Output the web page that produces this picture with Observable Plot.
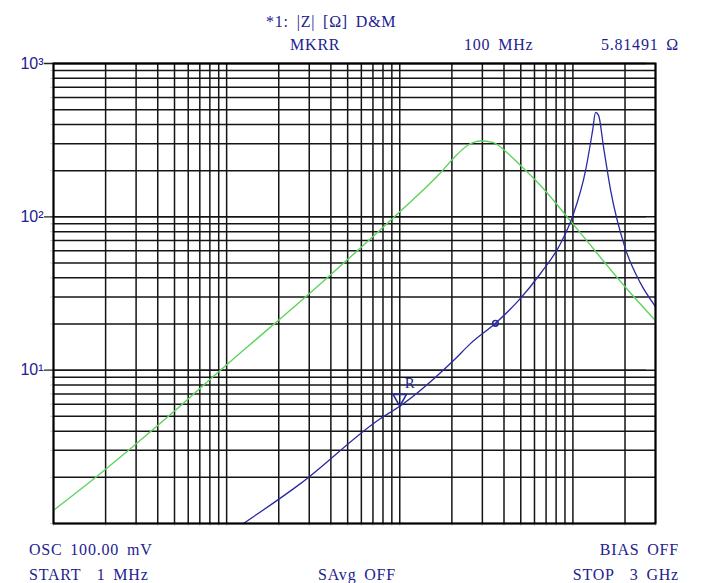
<!DOCTYPE html>
<html>
<head>
<meta charset="utf-8">
<script src="https://cdn.jsdelivr.net/npm/d3@7"></script>
<script src="https://cdn.jsdelivr.net/npm/@observablehq/plot@0.6"></script>
<style>
  body { margin: 0; background: #fff; }
  #wrap { position: relative; width: 702px; height: 583px; background: #fff; overflow: hidden; }
  #wrap svg { position: absolute; left: 0; top: 0; }
  .t { position: absolute; font-family: "Liberation Serif", "DejaVu Serif", serif; font-size: 16px; line-height: 16px; color: #22228f; white-space: pre; letter-spacing: 0.8px; word-spacing: 3px; }
</style>
</head>
<body>
<div id="wrap">
  <div class="t" style="left:266px; top:14px;">*1: |Z| [Ω] D&amp;M</div>
  <div class="t" style="left:290px; top:37px;">MKRR</div>
  <div class="t" style="left:464px; top:37px;">100 MHz</div>
  <div class="t" style="right:23px; top:37px;">5.81491 Ω</div>
  <div class="t" style="left:29px; top:542px;">OSC 100.00 mV</div>
  <div class="t" style="right:23px; top:542px;">BIAS OFF</div>
  <div class="t" style="left:29px; top:567px;">START  1 MHz</div>
  <div class="t" style="left:318px; top:567px;">SAvg OFF</div>
  <div class="t" style="right:23px; top:567px;">STOP  3 GHz</div>
</div>
<script>
// Frequency in MHz, impedance in ohms
const greenFreq = [1, 1.8, 2.9, 4.94, 9.2, 13.2, 35, 100, 172, 205, 246, 293, 344, 420, 499, 650, 1000, 2000, 3000];
const greenZ    = [1.22, 2.05, 3.2, 5.35, 10, 14.2, 36.8, 108, 194, 242, 292, 312, 306, 260, 216, 160, 90, 35, 21];

const blueFreq = [12.5, 26.7, 77.5, 100, 205, 256, 357, 486, 650, 849, 1000, 1184, 1300, 1352, 1407, 1504, 1652, 2000, 2461, 3000];
const blueZ    = [1.0, 1.82, 4.84, 5.815, 11.6, 14.9, 20.2, 28.5, 42.7, 67, 102, 201, 366, 480, 459, 284, 149, 63, 36.8, 26];

const markerR = [{f: 100, z: 5.81491}];
const markerO = [{f: 357, z: 20.2}];

const xGrid = [1,2,3,4,5,6,7,8,9,10,20,30,40,50,60,70,80,90,100,200,300,400,500,600,700,800,900,1000,2000,3000];
const yGrid = [1,2,3,4,5,6,7,8,9,10,20,30,40,50,60,70,80,90,100,200,300,400,500,600,700,800,900,1000];
const yTicks = [10, 100, 1000];
const yTickLabels = ["10¹", "10²", "10³"];

const green = greenFreq.map((f, i) => ({f, z: greenZ[i]}));
const blue = blueFreq.map((f, i) => ({f, z: blueZ[i]}));

const navy = "#22228f";
const chart = Plot.plot({
  width: 702,
  height: 583,
  marginTop: 63,
  marginBottom: 60,
  marginLeft: 53,
  marginRight: 47,
  style: {background: "transparent", fontFamily: "Liberation Sans, Arial, sans-serif"},
  x: {type: "log", domain: [1, 3000]},
  y: {type: "log", domain: [1, 1000]},
  marks: [
    Plot.axisX({ticks: xGrid, tickSize: 3, tickFormat: () => "", stroke: "#cfcfcf", label: null}),
    Plot.axisY({ticks: yGrid, tickSize: 3, tickFormat: () => "", stroke: "#cfcfcf", label: null}),
    Plot.tickY(yTicks, {y: d => d, dx: -9, stroke: "#222", strokeWidth: 1.3}),
    Plot.text(yTicks, {y: d => d, text: (d, i) => yTickLabels[i], frameAnchor: "left", textAnchor: "end", dx: -10, fill: navy, fontSize: 16, fontFamily: "Liberation Sans, Arial, sans-serif"}),
    Plot.ruleX(xGrid, {stroke: "#141414", strokeWidth: 1.5}),
    Plot.ruleY(yGrid, {stroke: "#141414", strokeWidth: 1.5}),
    Plot.line(green, {x: "f", y: "z", stroke: "#5fd35f", strokeWidth: 1.4, curve: "monotone-x", clip: true}),
    Plot.line(blue, {x: "f", y: "z", stroke: "#2a2aa0", strokeWidth: 1.3, curve: "monotone-x", clip: true}),
    Plot.dot(markerR, {x: "f", y: "z", symbol: "triangle", rotate: 180, r: 5, dy: -8, stroke: "#2a2aa0", strokeWidth: 1.6, fill: "none"}),
    Plot.text(markerR, {x: "f", y: "z", text: () => "R", dx: 10, dy: -23, fill: navy, fontSize: 15, fontFamily: "Liberation Serif, serif"}),
    Plot.dot(markerO, {x: "f", y: "z", r: 2.8, stroke: "#2a2aa0", strokeWidth: 1.6, fill: "none"}),
    Plot.frame({stroke: "#000", strokeWidth: 2})
  ]
});
document.getElementById("wrap").prepend(chart);
</script>
</body>
</html>
